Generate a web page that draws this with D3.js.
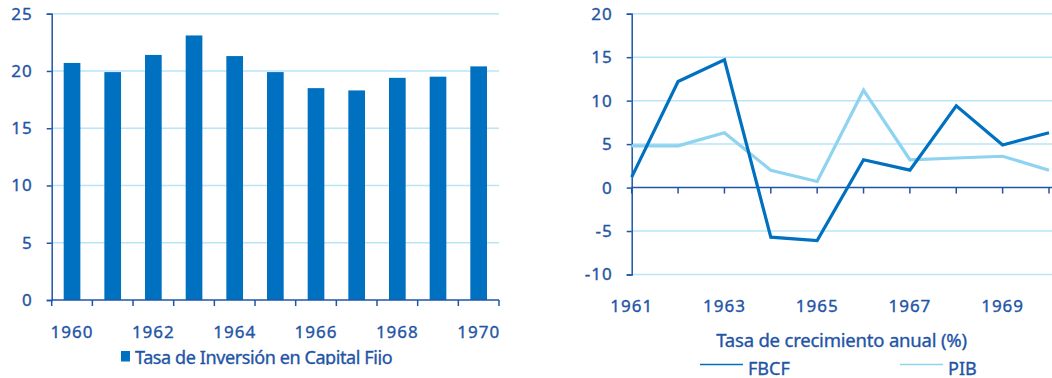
<!DOCTYPE html>
<html>
<head>
<meta charset="utf-8">
<script src="https://cdn.jsdelivr.net/npm/d3@7"></script>
<style>
  body { margin: 0; background: #fff; }
  svg { display: block; }
  text { font-family: "Noto Sans", sans-serif; fill: #1f55a5; stroke: #1f55a5; stroke-width: 0.35px; }
</style>
</head>
<body>
<svg id="chart" width="1052" height="378"></svg>
<script>
// left chart: investment rate
var years = [1960, 1961, 1962, 1963, 1964, 1965, 1966, 1967, 1968, 1969, 1970];
var tasaInversion = [20.7, 19.9, 21.4, 23.1, 21.3, 19.9, 18.5, 18.3, 19.4, 19.5, 20.4];
var leftTicks = [0, 5, 10, 15, 20, 25];
var leftLabels = [1960, 1962, 1964, 1966, 1968, 1970];

// right chart: annual growth
var growthYears = [1961, 1962, 1963, 1964, 1965, 1966, 1967, 1968, 1969, 1970];
var fbcf = [1.2, 12.2, 14.7, -5.7, -6.1, 3.2, 2.0, 9.4, 4.9, 6.3];
var pib = [4.8, 4.8, 6.3, 2.0, 0.7, 11.2, 3.2, 3.4, 3.6, 2.0];
var rightTicks = [-10, -5, 0, 5, 10, 15, 20];
var rightLabels = [1961, 1963, 1965, 1967, 1969];

var dark = '#1f55a5',
  bar = '#0070c0',
  light = '#8ed3f0',
  grid = '#b9e5f7';

var svg = d3.select('#chart');

// ---------- left ----------
var x = d3
    .scaleBand()
    .domain(years)
    .range([51.7, 499])
    .paddingInner(0.59)
    .paddingOuter(0.295),
  y = d3.scaleLinear().domain([0, 25]).range([300, 13.7]);

var gl = svg.append('g');

gl.selectAll('.grid')
  .data(leftTicks.slice(1))
  .enter()
  .append('line')
  .attr('x1', 51.7)
  .attr('x2', 499)
  .attr('y1', d => y(d))
  .attr('y2', d => y(d))
  .attr('stroke', grid)
  .attr('stroke-width', 1.5);

gl.selectAll('rect.bar')
  .data(tasaInversion)
  .enter()
  .append('rect')
  .attr('class', 'bar')
  .attr('x', (d, i) => x(years[i]))
  .attr('y', d => y(d))
  .attr('width', x.bandwidth())
  .attr('height', d => y(0) - y(d))
  .attr('fill', bar);

// y axis
gl.append('g')
  .attr('transform', 'translate(51.7,0)')
  .call(d3.axisLeft(y).tickValues(leftTicks).tickFormat(String).tickSize(5).tickPadding(14));

// x axis: ticks on band edges
var edges = years.map(d => x(d) - (x.step() - x.bandwidth()) / 2).concat([499]);
gl.append('line')
  .attr('x1', 51.7)
  .attr('x2', 499)
  .attr('y1', 300)
  .attr('y2', 300)
  .attr('stroke', dark)
  .attr('stroke-width', 1.5);
gl.selectAll('.xt')
  .data(edges)
  .enter()
  .append('line')
  .attr('x1', d => d)
  .attr('x2', d => d)
  .attr('y1', 300)
  .attr('y2', 306)
  .attr('stroke', dark)
  .attr('stroke-width', 1.5);
gl.selectAll('.xl')
  .data(leftLabels)
  .enter()
  .append('text')
  .attr('x', d => x(d) + x.bandwidth() / 2)
  .attr('y', 338)
  .attr('text-anchor', 'middle')
  .attr('font-size', 17)
  .attr('letter-spacing', 1)
  .text(d => d);

// legend (bottom is cut off in the original)
svg.append('clipPath')
  .attr('id', 'cutL')
  .append('rect')
  .attr('x', 0)
  .attr('y', 0)
  .attr('width', 530)
  .attr('height', 365);
var legL = gl.append('g').attr('clip-path', 'url(#cutL)');
legL.append('rect')
  .attr('x', 121)
  .attr('y', 351)
  .attr('width', 9)
  .attr('height', 10.5)
  .attr('fill', bar);
legL.append('text')
  .attr('x', 135)
  .attr('y', 364)
  .attr('font-size', 18)
  .attr('letter-spacing', -0.4)
  .text('Tasa de Inversión en Capital Fijo');

// ---------- right ----------
var x2 = d3.scalePoint().domain(growthYears).range([631.7, 1049]),
  y2 = d3.scaleLinear().domain([-10, 20]).range([274.5, 13.7]);

var gr = svg.append('g');

gr.selectAll('.grid')
  .data(rightTicks.filter(d => d !== 0))
  .enter()
  .append('line')
  .attr('x1', 631.7)
  .attr('x2', 1052)
  .attr('y1', d => y2(d))
  .attr('y2', d => y2(d))
  .attr('stroke', grid)
  .attr('stroke-width', 1.5);

gr.append('g')
  .attr('transform', 'translate(631.7,0)')
  .call(d3.axisLeft(y2).tickValues(rightTicks).tickFormat(String).tickSize(5).tickPadding(14));

// zero line with ticks
gr.append('line')
  .attr('x1', 631.7)
  .attr('x2', 1052)
  .attr('y1', y2(0))
  .attr('y2', y2(0))
  .attr('stroke', dark)
  .attr('stroke-width', 1.5);
gr.selectAll('.xt')
  .data(growthYears)
  .enter()
  .append('line')
  .attr('x1', d => x2(d))
  .attr('x2', d => x2(d))
  .attr('y1', y2(0))
  .attr('y2', y2(0) + 6)
  .attr('stroke', dark)
  .attr('stroke-width', 1.5);

var line = d3
  .line()
  .x((d, i) => x2(growthYears[i]))
  .y(d => y2(d));

gr.append('path')
  .datum(pib)
  .attr('d', line)
  .attr('fill', 'none')
  .attr('stroke', light)
  .attr('stroke-width', 3.2);
gr.append('path')
  .datum(fbcf)
  .attr('d', line)
  .attr('fill', 'none')
  .attr('stroke', bar)
  .attr('stroke-width', 3.2);

gr.selectAll('.xl')
  .data(rightLabels)
  .enter()
  .append('text')
  .attr('x', d => x2(d))
  .attr('y', 312)
  .attr('text-anchor', 'middle')
  .attr('font-size', 17)
  .attr('letter-spacing', 1)
  .text(d => d);

gr.append('text')
  .attr('x', 841.5)
  .attr('y', 346.5)
  .attr('text-anchor', 'middle')
  .attr('font-size', 18.5)
  .attr('letter-spacing', -0.2)
  .text('Tasa de crecimiento anual (%)');

// legend
var legItems = [
  { name: 'FBCF', color: bar, x: 700 },
  { name: 'PIB', color: light, x: 900 }
];
legItems.forEach(function(it) {
  gr.append('line')
    .attr('x1', it.x)
    .attr('x2', it.x + 43)
    .attr('y1', 364.5)
    .attr('y2', 364.5)
    .attr('stroke', it.color)
    .attr('stroke-width', 1.5);
  gr.append('text')
    .attr('x', it.x + 48)
    .attr('y', 374.5)
    .attr('font-size', 18)
    .text(it.name);
});

// axis styling
svg.selectAll('.tick text').attr('font-size', 17).attr('letter-spacing', 1).style('fill', dark);
svg.selectAll('.tick line').attr('stroke', dark).attr('stroke-width', 1.5);
svg.selectAll('.domain').attr('stroke', dark).attr('stroke-width', 1.5);
</script>
</body>
</html>
